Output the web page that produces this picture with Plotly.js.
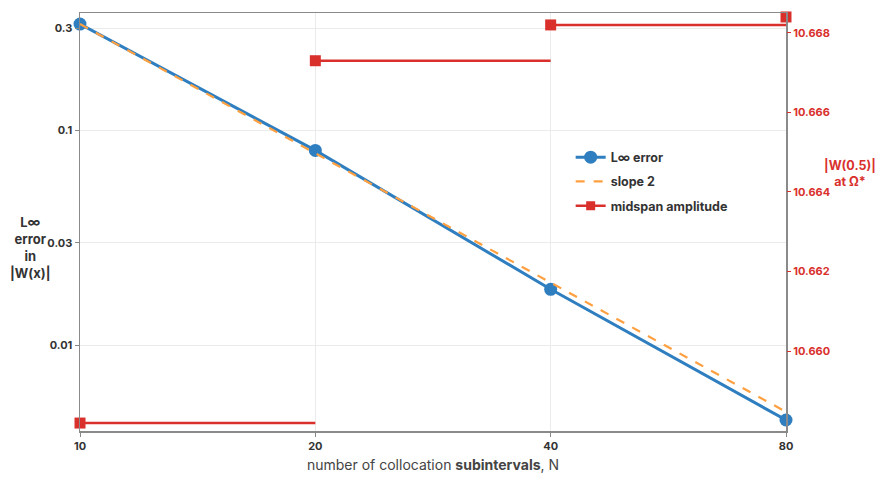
<!DOCTYPE html>
<html>
<head>
<meta charset="utf-8">
<script src="https://cdn.plot.ly/plotly-3.0.1.min.js"></script>
<style>html,body{margin:0;padding:0;background:#fff;}#chart{width:892px;height:477px;}</style>
</head>
<body>
<div id="chart"></div>
<script>
// Data
const N = [10, 20, 40, 80];
const linfError = [0.313, 0.0807, 0.0182, 0.00448];
const slope2 = [0.313, 0.0783, 0.0196, 0.00489];
const midspanAmp = [10.65819, 10.6673, 10.6682, 10.6684];
const leftTickVals = [0.01, 0.03, 0.1, 0.3];
const leftTickText = ['0.01', '0.03', '0.1', '0.3'];
const rightTickVals = [10.660, 10.662, 10.664, 10.666, 10.668];

// Build horizontal segments (no vertical risers) for the midspan amplitude
const segX = [], segY = [];
for (let i = 0; i < N.length - 1; i++) {
  segX.push(N[i], N[i + 1], null);
  segY.push(midspanAmp[i], midspanAmp[i], null);
}

const FONT = 'Inter, "Open Sans", "Liberation Sans", sans-serif';
const RED = '#d9302c';
const traces = [
  {x: N, y: linfError, name: 'L∞ error', mode: 'lines+markers', type: 'scatter',
   line: {color: '#2e7ec0', width: 3}, marker: {color: '#2e7ec0', size: 13}, cliponaxis: false},
  {x: N, y: slope2, name: 'slope 2', mode: 'lines', type: 'scatter',
   line: {color: '#ffa040', width: 2.2, dash: 'dash'}, cliponaxis: false},
  {x: segX, y: segY, name: 'midspan amplitude', mode: 'lines', type: 'scatter', yaxis: 'y2',
   line: {color: RED, width: 2.5}, connectgaps: false, cliponaxis: false,
   showlegend: false, legendgroup: 'amp'},
  {x: N, y: midspanAmp, name: 'midspan amplitude', mode: 'lines+markers', type: 'scatter', yaxis: 'y2',
   line: {color: RED, width: 0}, marker: {color: RED, size: 11, symbol: 'square'},
   cliponaxis: false, showlegend: false, legendgroup: 'amp'},
  {x: [null], y: [null], name: 'midspan amplitude', mode: 'lines+markers', type: 'scatter', yaxis: 'y2',
   line: {color: RED, width: 2.5}, marker: {color: RED, size: 9, symbol: 'square'}, legendgroup: 'amp'}
];

const layout = {
  width: 892, height: 477,
  margin: {l: 80, r: 106, t: 13, b: 46},
  paper_bgcolor: '#fff', plot_bgcolor: '#fff',
  font: {family: FONT, color: '#444'},
  showlegend: true,
  legend: {x: 0.695, y: 0.69, xanchor: 'left', yanchor: 'top', bgcolor: 'rgba(0,0,0,0)',
           font: {family: FONT, size: 12.5, color: '#333', weight: 'bold'}, tracegroupgap: 5},
  xaxis: {type: 'log', range: [1, Math.log10(80)], tickvals: N, ticktext: N.map(String),
          ticks: 'outside', ticklen: 4, tickcolor: '#888',
          showline: true, linecolor: '#8a8a8a', linewidth: 1.5, mirror: true,
          showgrid: true, gridcolor: '#ebebeb', zeroline: false,
          tickfont: {size: 11, color: '#333', weight: 'bold'},
          title: {text: 'number of collocation <b>subintervals</b>, N', font: {size: 14, color: '#444'}, standoff: 8}},
  yaxis: {type: 'log', range: [-2.4, -0.453], tickvals: leftTickVals, ticktext: leftTickText,
          ticks: 'outside', ticklen: 4, tickcolor: '#888',
          showline: true, linecolor: '#8a8a8a', linewidth: 1.5, mirror: true,
          showgrid: true, gridcolor: '#ebebeb', zeroline: false,
          tickfont: {size: 11, color: '#333', weight: 'bold'}},
  yaxis2: {overlaying: 'y', side: 'right', range: [10.65799, 10.6685], tickvals: rightTickVals,
           tickformat: '.3f', ticks: 'outside', ticklen: 4, tickcolor: RED,
           showgrid: false, zeroline: false, showline: false,
           tickfont: {size: 11, color: RED, weight: 'bold'}},
  annotations: [
    {xref: 'paper', yref: 'paper', x: -0.0708, y: 0.44, xanchor: 'center', yanchor: 'middle',
     text: 'L∞<br>error<br>in<br>|W(x)|', showarrow: false, align: 'center',
     font: {family: FONT, size: 13, color: '#333', weight: 'bold'}},
    {xref: 'paper', yref: 'paper', x: 1.0907, y: 0.615, xanchor: 'center', yanchor: 'middle',
     text: '|W(0.5)|<br>at Ω*', showarrow: false, align: 'center',
     font: {family: FONT, size: 12.5, color: RED, weight: 'bold'}}
  ]
};

Plotly.newPlot('chart', traces, layout, {displayModeBar: false, staticPlot: true});
</script>
</body>
</html>
